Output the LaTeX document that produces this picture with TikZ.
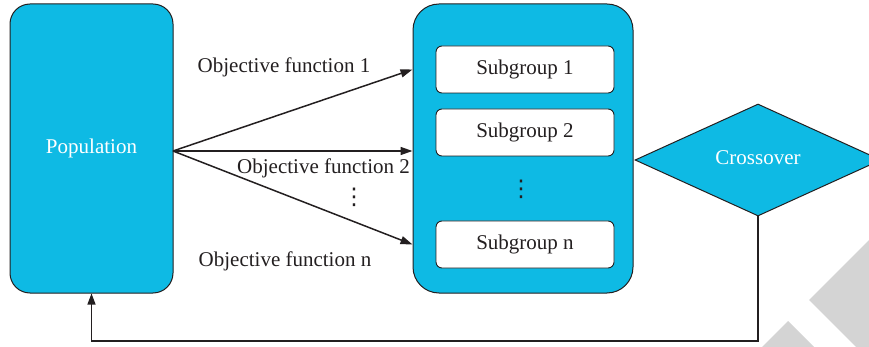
\documentclass[tikz,border=0pt]{standalone}
\usepackage{fontspec}
\setmainfont{Liberation Serif}
\newfontfamily\symfont{DejaVu Sans}
\usetikzlibrary{shapes.geometric,arrows.meta}
\definecolor{cyanfill}{RGB}{14,186,228}
\definecolor{ink}{RGB}{35,31,32}
\definecolor{wmgray}{RGB}{212,212,212}
\begin{document}
\begin{tikzpicture}[x=1pt,y=-1pt,
  txt/.style={font=\fontsize{21}{25}\selectfont, text=ink, inner sep=0pt},
  vdot/.style={font=\symfont\fontsize{23}{26}\selectfont, text=ink, inner sep=0pt},
  boxtxt/.style={font=\fontsize{21}{25}\selectfont, text height=14pt, text depth=4pt},
  bluebox/.style={draw=ink, line width=1pt, fill=cyanfill, boxtxt, text=white, inner sep=0pt},
  subbox/.style={draw=ink, line width=0.9pt, fill=white, rounded corners=6pt, minimum width=178pt, minimum height=47pt, inner sep=0pt, boxtxt, text=ink},
  flow/.style={draw=ink, line width=1.5pt, -{Triangle[length=12pt,width=8pt]}},
  back/.style={draw=ink, line width=1.3pt, -{Triangle[length=11pt,width=8pt]}},
]
\useasboundingbox (0,0) rectangle (869,347);
% watermark shapes
\fill[wmgray] (869,240) -- (809,300) -- (856,347) -- (869,347) -- cycle;
\fill[wmgray] (788,321) -- (762,347) -- (814,347) -- cycle;

% main boxes
\node[bluebox, rounded corners=20pt, minimum width=163pt, minimum height=289pt] (pop) at (91.5,148.5) {Population};
\node[bluebox, rounded corners=26pt, minimum width=220pt, minimum height=289pt] (big) at (523,148.5) {};
\node[subbox] (sg1) at (525,69.5) {Subgroup 1};
\node[subbox] (sg2) at (525,132.5) {Subgroup 2};
\node[subbox] (sgn) at (525,244.5) {Subgroup n};
\node[vdot] (dotsin) at (521,189.5) {⋮};
\node[diamond, bluebox, minimum width=246pt, minimum height=112pt, aspect=2.2] (cross) at (758,160) {Crossover};

% labels
\node[txt, anchor=base] (of1) at (284,73) {Objective function 1};
\node[txt, anchor=base] (of2) at (323.5,174) {Objective function 2};
\node[vdot] (dotsout) at (354,197) {⋮};
\node[txt, anchor=base] (ofn) at (285,266) {Objective function n};

% arrows
\coordinate (src) at (173,151);
\draw[flow] (src) -- (big.west |- sg1);
\draw[flow] (src) -- (big.west |- src);
\draw[flow] (src) -- (big.west |- sgn);

% feedback
\coordinate (fb) at (91.5,341);
\draw[back] (cross.south) |- (fb) -- (pop.south);
\end{tikzpicture}
\end{document}
